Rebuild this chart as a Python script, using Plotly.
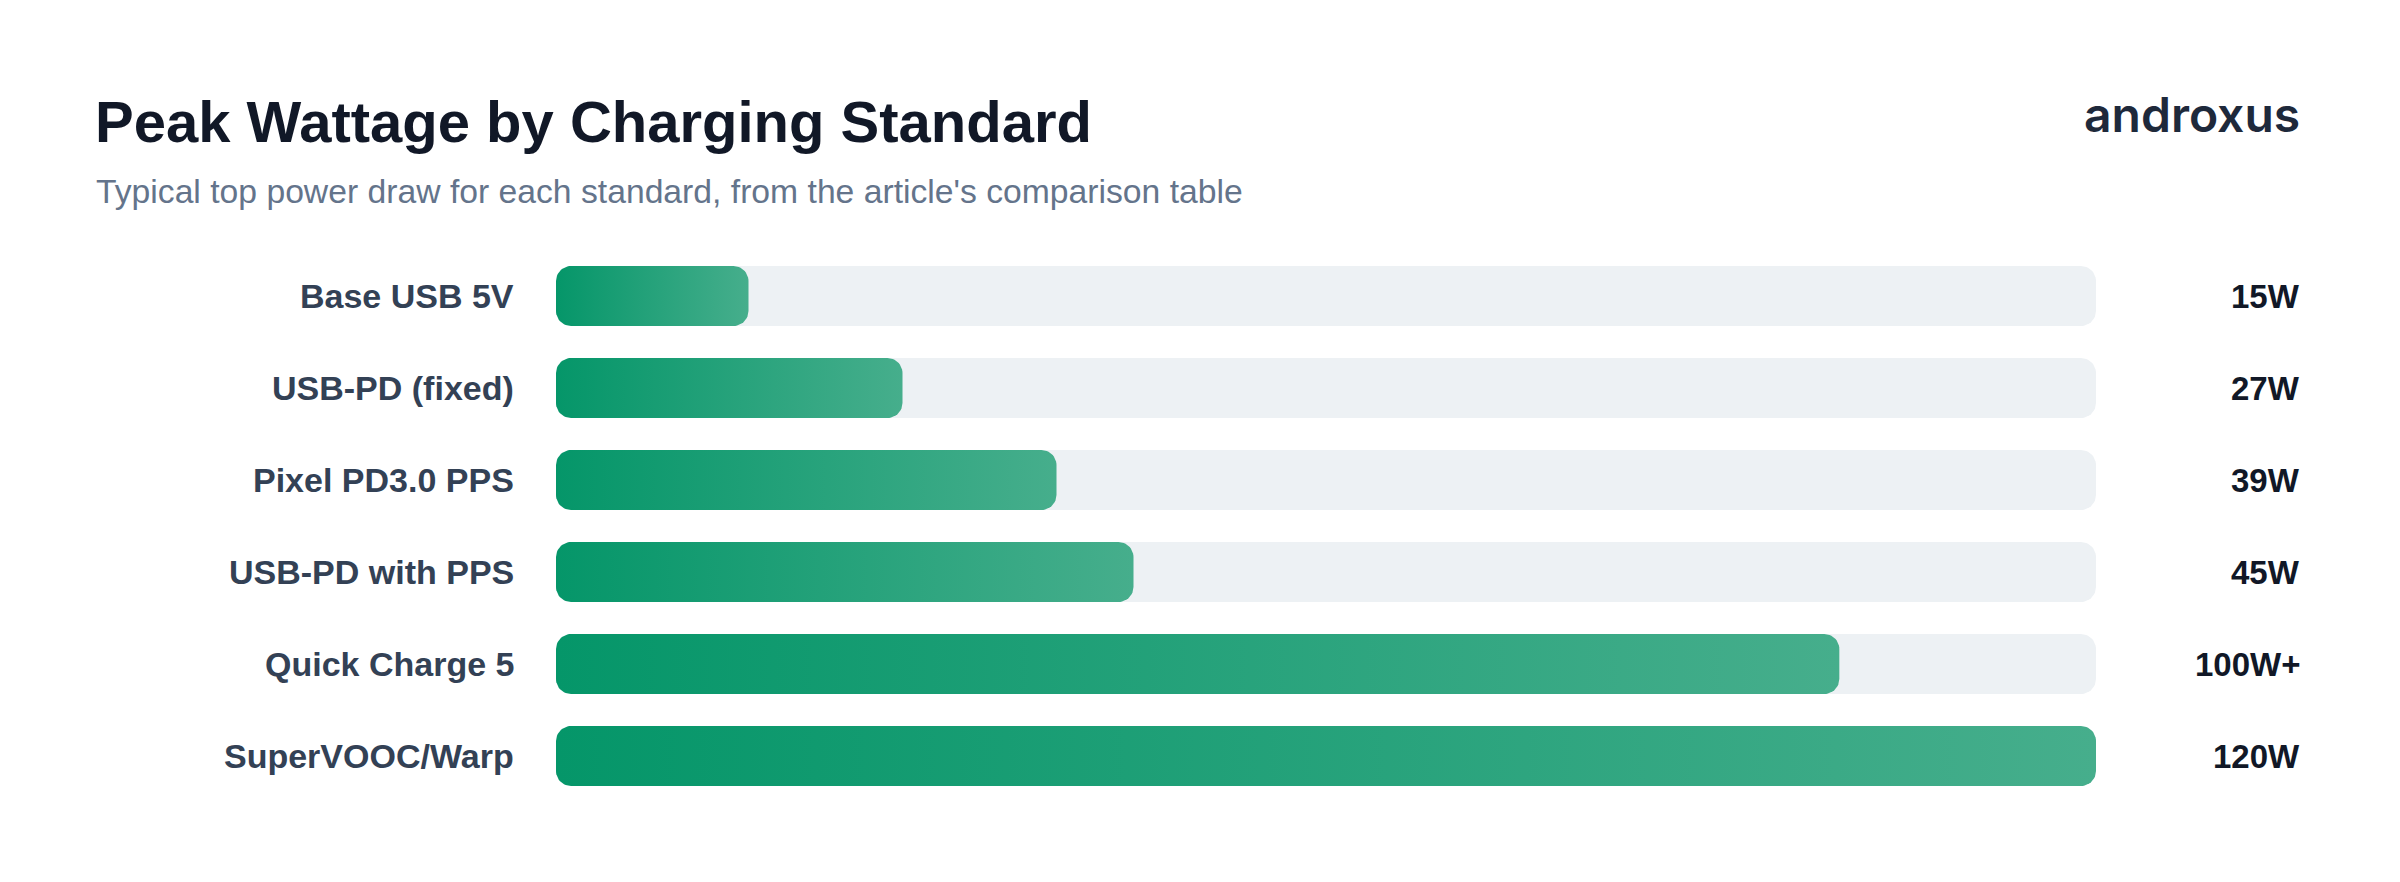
import plotly.graph_objects as go
import numpy as np

# ---- data ----
standards = ["Base USB 5V", "USB-PD (fixed)", "Pixel PD3.0 PPS", "USB-PD with PPS", "Quick Charge 5", "SuperVOOC/Warp"]
watts = [15, 27, 39, 45, 100, 120]
value_labels = ["15W", "27W", "39W", "45W", "100W+", "120W"]
scale_max = 120

title = "Peak Wattage by Charging Standard"
subtitle = "Typical top power draw for each standard, from the article's comparison table"
brand = "androxus"

# ---- layout geometry (pixels) ----
W, H = 2400, 882
PL, PR = 556, 2096          # plot left/right
ROW0, PITCH = 296.0, 91.94  # first row center, row pitch
BAR_H = 60
RADIUS = 15
n = len(standards)
PT = ROW0 - PITCH / 2
PB = PT + n * PITCH

px_per_x = (PR - PL) / scale_max
px_per_y = PITCH

FONT = "Liberation Sans, Arial, Helvetica, sans-serif"


def rounded_rect(x0, x1, yc):
    hh = BAR_H / 2 / px_per_y
    rx = min(RADIUS / px_per_x, (x1 - x0) / 2)
    ry = RADIUS / px_per_y
    y0, y1 = yc - hh, yc + hh
    xs, ys = [], []
    corners = [
        (x1 - rx, y0 + ry, -np.pi / 2, 0),
        (x1 - rx, y1 - ry, 0, np.pi / 2),
        (x0 + rx, y1 - ry, np.pi / 2, np.pi),
        (x0 + rx, y0 + ry, np.pi, 1.5 * np.pi),
    ]
    for cx, cy, a0, a1 in corners:
        t = np.linspace(a0, a1, 14)
        xs.extend(cx + rx * np.cos(t))
        ys.extend(cy + ry * np.sin(t))
    xs.append(xs[0])
    ys.append(ys[0])
    return xs, ys


fig = go.Figure()

for i, (name, w) in enumerate(zip(standards, watts)):
    tx, ty = rounded_rect(0, scale_max, i)
    fig.add_trace(go.Scatter(x=tx, y=ty, fill="toself", fillcolor="#edf1f4",
                             mode="lines", line=dict(width=0), hoverinfo="skip",
                             showlegend=False))
    bx, by = rounded_rect(0, w, i)
    fig.add_trace(go.Scatter(x=bx, y=by, fill="toself",
                             fillgradient=dict(type="horizontal",
                                               colorscale=[[0, "#059669"], [1, "#46ae8c"]]),
                             mode="lines", line=dict(width=0), hoverinfo="skip",
                             showlegend=False, name=name))


def px_to_paper_x(px):
    return (px - PL) / (PR - PL)


def px_to_paper_y(py):
    return (PB - py) / (PB - PT)


annotations = []
for i, (name, lab) in enumerate(zip(standards, value_labels)):
    annotations.append(dict(x=0, y=i, xref="x", yref="y", text=name, showarrow=False,
                            xanchor="right", yanchor="middle", xshift=-40,
                            font=dict(family=FONT, size=34, color="#334155", weight=700)))
    annotations.append(dict(x=px_to_paper_x(2302), y=i, xref="paper", yref="y", text=lab,
                            showarrow=False, xanchor="right", yanchor="middle",
                            font=dict(family=FONT, size=33, color="#111827", weight=700)))

annotations.append(dict(x=px_to_paper_x(93), y=px_to_paper_y(122), xref="paper", yref="paper",
                        text=title, showarrow=False, xanchor="left", yanchor="middle",
                        font=dict(family=FONT, size=58, color="#111827", weight=700)))
annotations.append(dict(x=px_to_paper_x(94), y=px_to_paper_y(191), xref="paper", yref="paper",
                        text=subtitle, showarrow=False, xanchor="left", yanchor="middle",
                        font=dict(family=FONT, size=33.7, color="#64748b")))
annotations.append(dict(x=px_to_paper_x(2302), y=px_to_paper_y(115), xref="paper", yref="paper",
                        text=brand, showarrow=False, xanchor="right", yanchor="middle",
                        font=dict(family="Inter, sans-serif", size=48, color="#1e293b", weight=600)))

fig.update_layout(
    width=W, height=H,
    margin=dict(l=PL, r=W - PR, t=PT, b=H - PB, pad=0),
    paper_bgcolor="white", plot_bgcolor="white",
    xaxis=dict(range=[0, scale_max], visible=False, fixedrange=True),
    yaxis=dict(range=[n - 0.5, -0.5], visible=False, fixedrange=True),
    annotations=annotations,
    showlegend=False,
)

fig.write_html("out.html")
